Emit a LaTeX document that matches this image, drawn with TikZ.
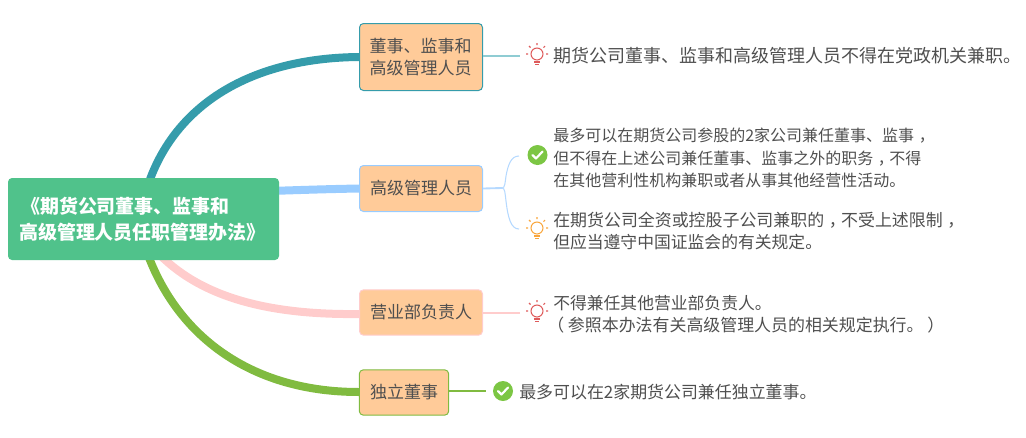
\documentclass[tikz,border=0pt]{standalone}
\usepackage{fontspec}
\setmainfont{Noto Sans CJK SC}
\definecolor{ink}{HTML}{4F4F4F}
\definecolor{rootgreen}{HTML}{50C28B}
\definecolor{peach}{HTML}{FFCB99}
\definecolor{teal1}{HTML}{359CAB}
\definecolor{teal2}{HTML}{8FCCD3}
\definecolor{blue1}{HTML}{99CCFF}
\definecolor{blue2}{HTML}{B5D9FF}
\definecolor{pink1}{HTML}{FFCCCC}
\definecolor{green1}{HTML}{80BB40}
\definecolor{bulbred}{HTML}{DE5B5B}
\definecolor{bulbor}{HTML}{F9A63C}
\definecolor{checkg}{HTML}{7CC644}
\newcommand{\fs}[1]{\fontsize{#1}{16.6}\selectfont}
\newcommand{\cmm}{\kern3.5pt，\kern-3.5pt}
\tikzset{
  x=0.75pt,y=-0.75pt,
  rootbox/.style={draw=none,fill=rootgreen,rounded corners=3pt,inner sep=0pt,minimum width=203.25pt,minimum height=61.5pt},
  roottextstyle/.style={inner sep=0pt,anchor=west,text=white,font=\fontsize{14.2}{19.5}\selectfont\bfseries,align=left},
  topic/.style={fill=peach,rounded corners=3pt,inner sep=0pt,line width=.75pt,text=ink,font=\fontsize{12.75}{16.8}\selectfont,align=left},
  note/.style={inner sep=0pt,anchor=west,text=ink,font=\fontsize{13.5}{16.6}\selectfont,align=left},
  branch/.style={line width=6pt},
  twig/.style={line width=.8pt},
  bulb/.pic={
    \draw[line width=.8pt] (0,0) circle[radius=6];
    \draw[line width=.8pt] (-3,8) -- (3,8) (-2,10.5) -- (2,10.5);
    \draw[line width=.8pt] (0,-9) -- (0,-11) (-6.5,-6.5) -- (-8,-8) (6.5,-6.5) -- (8,-8) (-9,0) -- (-11,0) (9,0) -- (11,0);
  },
  okmark/.pic={
    \fill[checkg] (0,0) circle[radius=10];
    \draw[white,line width=1.6pt,line cap=round,line join=round] (-5,0) -- (-1.5,3.5) -- (5,-3.5);
  }
}
\begin{document}
\begin{tikzpicture}
\useasboundingbox (0,0) rectangle (1026,437);
\coordinate (rtop) at (148,185);
\coordinate (rbot) at (148,255);
\coordinate (rpink) at (160,255);
\coordinate (tb) at (502,188);
\coordinate (e1) at (520,56);
\coordinate (e2a) at (519,156);
\coordinate (e2b) at (519,229);
\coordinate (e3) at (520,313);
\coordinate (e4) at (486,391);

\node[topic,draw=teal1,minimum width=92.25pt,minimum height=50.25pt] (t1) at (421,57) {\hspace*{-.7pt}董事、监事和\\\hspace*{-.7pt}高级管理人员};
\node[topic,draw=blue1,minimum width=92.25pt,minimum height=34.5pt] (t2) at (421,188.5) {高级管理人员};
\node[topic,draw=pink1,minimum width=92.25pt,minimum height=34pt] (t3) at (421,312.5) {营业部负责人};
\node[topic,draw=green1,minimum width=67pt,minimum height=34pt] (t4) at (404,392.5) {独立董事};

\draw[branch,teal1] (rtop) .. controls (175,105) and (250,58) .. (t1.west |- 0,57);
\draw[branch,blue1] (270,191) .. controls (300,190) and (330,189) .. (t2.west);
\draw[branch,pink1] (rpink) .. controls (205,300) and (275,315) .. (t3.west |- 0,314);
\draw[branch,green1] (rbot) .. controls (180,340) and (255,392) .. (t4.west |- 0,392);

\node[rootbox] (root) at (143.5,219) {};
\node[roottextstyle] (roottext) at (19,219) {\hspace*{1.5pt}《期货公司董事、监事和\\高级管理人员任职管理办法》};

\draw[twig,teal2,line width=1.5pt] (t1.east |- 0,56) -- (e1);
\draw[twig,blue2,line width=1.4pt] (t2.east) -- (tb);
\draw[twig,blue2] (tb) .. controls (505,188) and (505,183) .. (506,176) .. controls (508,165) and (511,156) .. (e2a);
\draw[twig,blue2] (tb) .. controls (505,188) and (505,193) .. (506,201) .. controls (508,218) and (511,229) .. (e2b);
\draw[twig,pink1] (t3.east |- 0,313) -- (e3);
\draw[twig,green1] (t4.east |- 0,391) -- (e4);

\pic[color=bulbred] at (537,54) {bulb};
\pic at (537.5,155) {okmark};
\pic[color=bulbor] at (537,228) {bulb};
\pic[color=bulbred] at (537,311) {bulb};
\pic at (503,391) {okmark};

\node[note] (n1) at (553,56) {期货公司董事、监事和高级管理人员不得在党政机关兼职。};
\node[note] (n2) at (553,158) {\fs{12}最多可以在期货公司参股的2家公司兼任董事、监事\cmm\\\fs{12}但不得在上述公司兼任董事、监事之外的职务\cmm 不得\\\fs{12}在其他营利性机构兼职或者从事其他经营性活动。};
\node[note] (n3) at (553,231) {\fs{12.7}在期货公司全资或控股子公司兼职的\cmm 不受上述限制\cmm\\\fs{12.6}但应当遵守中国证监会的有关规定。};
\node[note] (n4) at (553,314) {\fs{12.6}不得兼任其他营业部负责人。\\\hspace*{-4.5pt}\fs{12.7}（ 参照本办法有关高级管理人员的相关规定执行。 ）};
\node[note,font=\fontsize{12.7}{16.6}\selectfont] (n5) at (519,392) {最多可以在2家期货公司兼任独立董事。};
\end{tikzpicture}
\end{document}
